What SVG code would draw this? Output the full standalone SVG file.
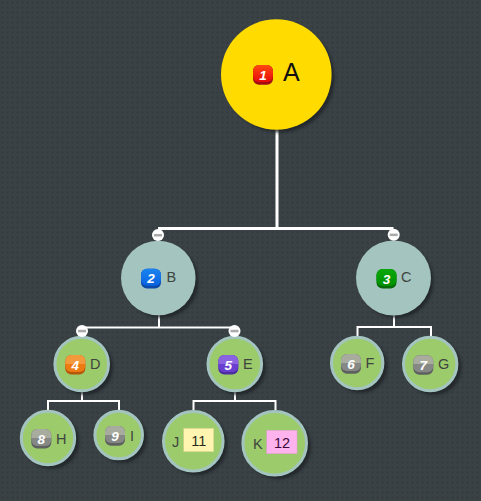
<svg xmlns="http://www.w3.org/2000/svg" width="481" height="501" viewBox="0 0 481 501">
<style>
text{font-family:"Liberation Sans",Arial,sans-serif;fill:#3f443f}
.conn path{fill:none;stroke:#fff}
.t3{stroke-width:3}.t2{stroke-width:2}
.shadow{fill:#1e2326;opacity:.8;filter:url(#blur)}
.root{fill:#ffdb00}.mid{fill:#a3c4bf}.leaf{fill:#9ccb6b;stroke:#a3c4bf;stroke-width:3}
.lbl{font-size:14.500px}
.num{font-size:13.500px;font-weight:bold;font-style:italic;fill:#fff;text-anchor:middle}
.stk{font-size:14.500px;text-anchor:middle;fill:#2a2a1a}
.ctl circle{fill:#fff}.ctl rect{fill:#aaa}
</style>
<defs>
<pattern id="bg" width="5" height="5" patternUnits="userSpaceOnUse"><rect width="5" height="5" fill="#3b4246"/><rect x="1.500" y="1.500" width="2" height="2" fill="#33393d"/></pattern>
<filter id="blur" x="-20%" y="-20%" width="140%" height="140%"><feGaussianBlur stdDeviation="1.500"/></filter>
<linearGradient id="g1" x1="0" y1="0" x2="0" y2="1"><stop offset="0" stop-color="#ff4a10"/><stop offset="1" stop-color="#e60a0a"/></linearGradient>
<linearGradient id="g2" x1="0" y1="0" x2="0" y2="1"><stop offset="0" stop-color="#1a84f0"/><stop offset="1" stop-color="#0a62e0"/></linearGradient>
<linearGradient id="g3" x1="0" y1="0" x2="0" y2="1"><stop offset="0" stop-color="#0ba80b"/><stop offset="1" stop-color="#009000"/></linearGradient>
<linearGradient id="g4" x1="0" y1="0" x2="0" y2="1"><stop offset="0" stop-color="#f39a3c"/><stop offset=".5" stop-color="#f39a3c"/><stop offset=".52" stop-color="#ee7a12"/><stop offset="1" stop-color="#ee7a12"/></linearGradient>
<linearGradient id="g5" x1="0" y1="0" x2="0" y2="1"><stop offset="0" stop-color="#8a63e0"/><stop offset=".5" stop-color="#8a63e0"/><stop offset=".52" stop-color="#6a3fd0"/><stop offset="1" stop-color="#6a3fd0"/></linearGradient>
<linearGradient id="g6" x1="0" y1="0" x2="0" y2="1"><stop offset="0" stop-color="#a8ac9e"/><stop offset=".5" stop-color="#a8ac9e"/><stop offset=".52" stop-color="#868886"/><stop offset="1" stop-color="#868886"/></linearGradient>
</defs>
<rect width="481" height="501" fill="url(#bg)"/>
<g class="conn" id="connectors">
<path class="t3" d="M277 129V228.500M158 228.500H393.500"/>
<path class="t2" d="M159 315V327.500M82 327.500H235"/>
<path class="t2" d="M394 315V327M357.500 336V327H431V336"/>
<path class="t2" d="M82 392V401M48 410V401H119V410"/>
<path class="t2" d="M235 392V401M193.500 410V401H275.500V410"/>
</g>
<g id="nodeA"><circle class="shadow" cx="280" cy="78" r="54.500"/><circle class="root" cx="276.300" cy="74.500" r="55.300"/><rect x="253" y="65" width="20" height="19.700" rx="6" fill="#a00d12"/><rect x="253" y="65" width="20" height="17" rx="6" fill="url(#g1)"/><text class="num" x="263" y="79.500">1</text><text x="283" y="81" font-size="25" style="fill:#111">A</text></g>
<g id="nodeB"><circle class="shadow" cx="162" cy="281.500" r="36.500"/><circle class="mid" cx="158.300" cy="278" r="37.300"/><rect x="141" y="268.700" width="20" height="19.700" rx="6" fill="#0b4aa8"/><rect x="141" y="268.700" width="20" height="17" rx="6" fill="url(#g2)"/><text class="num" x="151" y="283">2</text><text class="lbl" x="166.500" y="282">B</text></g>
<g id="nodeC"><circle class="shadow" cx="397" cy="281.500" r="36.500"/><circle class="mid" cx="393.500" cy="278" r="37.500"/><rect x="376.500" y="269" width="20" height="19.500" rx="6" fill="#056a05"/><rect x="376.500" y="269" width="20" height="17" rx="6" fill="url(#g3)"/><text class="num" x="386.500" y="283.500">3</text><text class="lbl" x="401" y="282">C</text></g>
<g id="nodeD"><circle class="shadow" cx="85.500" cy="367.500" r="27.500"/><circle class="leaf" cx="81.700" cy="364" r="26.800"/><rect x="65.300" y="355" width="20" height="19.500" rx="6" fill="#b5560c"/><rect x="65.300" y="355" width="20" height="17" rx="6" fill="url(#g4)"/><text class="num" x="75.300" y="369.500">4</text><text class="lbl" x="90" y="369">D</text></g>
<g id="nodeE"><circle class="shadow" cx="238.500" cy="367.500" r="27.500"/><circle class="leaf" cx="234.800" cy="364" r="26.800"/><rect x="218.300" y="355" width="20" height="19.500" rx="6" fill="#4c2ca0"/><rect x="218.300" y="355" width="20" height="17" rx="6" fill="url(#g5)"/><text class="num" x="228.300" y="369.500">5</text><text class="lbl" x="243" y="369">E</text></g>
<g id="nodeF"><circle class="shadow" cx="361" cy="366.500" r="26.500"/><circle class="leaf" cx="357.200" cy="363" r="25.700"/><rect x="341" y="354" width="20" height="19.700" rx="6" fill="#5e6060"/><rect x="341" y="354" width="20" height="17" rx="6" fill="url(#g6)"/><text class="num" x="351" y="368.500">6</text><text class="lbl" x="365.500" y="368">F</text></g>
<g id="nodeG"><circle class="shadow" cx="434" cy="367.500" r="27.500"/><circle class="leaf" cx="430.200" cy="364" r="26.700"/><rect x="413.300" y="355.300" width="20" height="19.500" rx="6" fill="#5e6060"/><rect x="413.300" y="355.300" width="20" height="17" rx="6" fill="url(#g6)"/><text class="num" x="423.300" y="369.800">7</text><text class="lbl" x="438" y="369">G</text></g>
<g id="nodeH"><circle class="shadow" cx="51.800" cy="441.500" r="27.500"/><circle class="leaf" cx="48" cy="438" r="26.700"/><rect x="31.300" y="429" width="20" height="19.500" rx="6" fill="#5e6060"/><rect x="31.300" y="429" width="20" height="17" rx="6" fill="url(#g6)"/><text class="num" x="41.300" y="443.500">8</text><text class="lbl" x="56" y="443.500">H</text></g>
<g id="nodeI"><circle class="shadow" cx="122.500" cy="438.500" r="24.500"/><circle class="leaf" cx="118.700" cy="435" r="23.800"/><rect x="105" y="426" width="20" height="19.700" rx="6" fill="#5e6060"/><rect x="105" y="426" width="20" height="17" rx="6" fill="url(#g6)"/><text class="num" x="115" y="440.500">9</text><text class="lbl" x="130" y="440.500">I</text></g>
<g id="nodeJ"><circle class="shadow" cx="197" cy="444.800" r="30.500"/><circle class="leaf" cx="193.300" cy="441.300" r="29.800"/><text class="lbl" x="172" y="446.500">J</text><rect x="183.700" y="428.300" width="30" height="23.400" fill="#fff4b0" stroke="#d8cf8e" stroke-width=".5"/><text class="stk" x="198.700" y="445.500">11</text></g>
<g id="nodeK"><circle class="shadow" cx="278.500" cy="446.800" r="32.500"/><circle class="leaf" cx="274.700" cy="443.300" r="31.800"/><text class="lbl" x="253" y="448.500">K</text><rect x="266.700" y="430.300" width="30.300" height="23.400" fill="#ffb3ee" stroke="#dd9ccf" stroke-width=".5"/><text class="stk" x="282" y="447.500" style="fill:#3a0a3a">12</text></g>
<g class="ctl" id="collapsers">
<g id="ctlB"><circle cx="158" cy="235" r="6"/><rect x="154" y="234" width="8" height="2.500"/></g>
<g id="ctlC"><circle cx="393.700" cy="234.800" r="6"/><rect x="389.700" y="233.600" width="8" height="2.500"/></g>
<g id="ctlD"><circle cx="82" cy="331" r="6"/><rect x="78" y="329.800" width="8" height="2.500"/></g>
<g id="ctlE"><circle cx="234.500" cy="331" r="6"/><rect x="230.500" y="329.800" width="8" height="2.500"/></g>
</g>
</svg>
